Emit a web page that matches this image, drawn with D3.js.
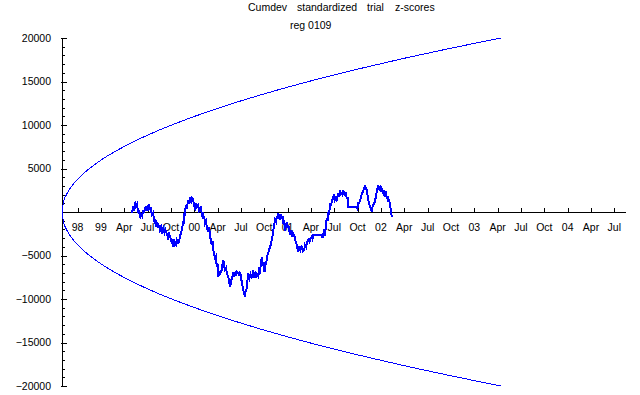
<!DOCTYPE html>
<meta charset="utf-8">
<body style="margin:0;background:#fff">
<style>
text { font-family: "Liberation Sans", Arial, sans-serif; font-size: 10.5px; fill: #000; }
.axis line, .axis path { stroke: #000; stroke-width: 1px; shape-rendering: crispEdges; }
.env { fill: none; stroke: #0000ff; stroke-width: 1px; shape-rendering: crispEdges; }
.cum { fill: none; stroke: #0000ff; stroke-width: 2px; stroke-linejoin: miter; shape-rendering: crispEdges; }
</style>
<script src="https://d3js.org/d3.v7.min.js"></script>
<script>

// x values are months counted from Jan 1998 (month 0)
var titleWords = ["Cumdev", "standardized", "trial", "z-scores"];
var subtitle = "reg 0109";

var yTicks = [-20000, -15000, -10000, -5000, 5000, 10000, 15000, 20000];
var tickMonths = d3.range(9, 79, 3);
var tickLabels = ["98","99","Apr","Jul","Oct","00","Apr","Jul","Oct","01","Apr","Jul","Oct","02",
                  "Apr","Jul","Oct","03","Apr","Jul","Oct","04","Apr","Jul"];

// envelope (upper side, lower side is the mirror)
var envMonths = [7, 7.2, 7.5, 8, 9, 10, 12, 15, 19, 23, 28, 33, 39, 45, 51, 57, 63.4];
var envBound  = [0, 1190, 1880, 2660, 3770, 4610, 5960, 7530, 9230, 10650, 12200, 13580,
                 15070, 16420, 17670, 18830, 20000];

// cumulative deviation
var cumMonths = [
15.96,16.13,16.26,16.39,16.51,16.64,16.81,16.90,17.03,17.16,17.29,17.45,17.54,17.67,17.89,17.99,
18.19,18.31,18.44,18.53,18.70,18.87,18.96,19.05,19.15,19.30,19.41,19.47,19.60,19.73,19.86,20.02,
20.18,20.31,20.46,20.63,20.76,20.89,21.01,21.18,21.27,21.44,21.53,21.66,21.75,21.91,22.04,22.17,
22.30,22.43,22.60,22.69,22.72,22.81,22.90,23.01,23.24,23.33,23.46,23.59,23.71,23.88,
23.97,24.10,24.23,24.36,24.52,24.61,24.74,24.87,24.96,25.09,25.19,25.26,25.39,25.51,25.64,25.81,
25.90,26.03,26.25,26.35,26.41,26.54,26.67,26.80,26.89,26.99,27.10,27.19,27.31,27.53,27.64,27.74,
27.83,27.96,28.09,28.21,28.38,28.47,28.60,28.73,28.82,28.99,29.11,29.24,29.37,29.50,29.67,29.76,
29.89,30.01,30.10,30.21,30.31,30.40,30.53,30.59,30.75,30.85,30.95,31.11,31.24,31.39,31.56,31.69,
31.81,31.94,32.07,32.24,32.33,32.46,
32.59,32.68,32.78,32.91,33.04,33.10,33.32,33.42,33.55,33.74,33.87,33.96,34.06,34.17,34.26,34.39,
34.51,34.60,34.71,34.81,34.90,35.03,35.16,35.25,35.35,35.45,35.54,35.67,35.76,35.89,35.99,36.10,
36.19,36.31,36.44,36.53,36.70,36.87,37.02,37.18,37.28,37.38,37.54,37.66,37.82,37.99,38.15,38.24,
38.37,38.46,38.56,38.67,38.82,38.95,39.10,39.21,39.31,40.39,40.49,40.60,
40.75,40.81,40.94,41.03,41.14,41.24,41.33,41.46,41.59,41.68,41.88,42.04,42.10,42.32,42.42,42.52,
42.61,42.74,42.87,42.96,43.06,43.17,43.26,43.39,43.48,43.60,43.81,43.82,44.89,44.97,45.10,45.22,
45.31,45.40,45.51,45.66,45.76,45.83,45.96,46.05,46.18,46.28,46.38,46.47,46.60,46.70,46.82,46.92,
47.02,47.11,47.24,47.35,47.46,47.56,47.67,47.76,47.89,47.99,48.10,48.21,48.31,48.40,48.53,48.63,
48.75,48.85,48.95,49.04,49.17,49.30,49.39];
var cumValues = [
-150,460,115,1185,690,920,-150,230,-725,-230,-460,230,-115,460,610,115,
920,230,575,-345,-115,-1115,-805,-1690,-1150,-1300,-1840,-1495,-2070,-1725,-2300,-1875,
-2415,-2070,-2450,-2990,-2530,-2840,-3220,-3600,-3105,-3990,-3450,-3680,-3220,-3565,-3415,-2760,
-2450,-1840,-1115,-1380,-150,-460,805,345,1380,920,1495,1185,1610,1380,
690,425,1035,575,805,115,230,690,-345,-150,-805,-460,-1300,-1035,-1840,-2265,
-1725,-2760,-3795,-3335,-4255,-4750,-5290,-5060,-6290,-5980,-7440,-6785,-7130,-6670,-5980,-5520,
-6210,-6670,-6440,-7130,-7440,-7935,-8590,-8050,-7625,-7130,-7475,-6865,-7360,-6900,-7050,-7360,
-6865,-7475,-8015,-8510,-8970,-9315,-9740,-9200,-8775,-7820,-7050,-7590,-7130,-7440,-6900,-7360,
-7050,-7590,-7130,-7440,-6670,-6865,
-5750,-5140,-6210,-5750,-6900,-6210,-5520,-4945,-4600,-3990,-3680,-3220,-2760,-2070,-1610,-920,
-1150,-540,-805,-115,-575,-920,-230,-725,-460,-1380,-920,-2185,-1725,-1150,-1840,-1495,
-2185,-2450,-2070,-2875,-2415,-2760,-3335,-3795,-4255,-4565,-3910,-4370,-3990,-4485,-4255,-3795,
-4025,-3600,-3335,-3220,-3450,-2990,-2840,-3105,-2645,-2645,-2990,-2450,
-1955,-2760,-1380,-725,-1035,35,-345,1000,690,1265,1760,1380,1725,1380,1840,2150,
1725,2530,2070,2150,1955,2530,2070,1955,2300,1575,1575,610,610,425,1035,1000,
1380,1575,1955,2335,2530,2725,3105,2645,2530,1955,1380,1035,610,345,35,575,
805,1035,1185,1840,2335,2760,3105,2645,2530,2875,2725,2300,2150,2530,1955,2185,
1575,1840,1185,1495,805,35,-540];

var width = 640, height = 395;

var svg = d3.select("body").append("svg")
    .attr("width", width)
    .attr("height", height);

var x = d3.scaleLinear().domain([7, 79.5]).range([62, 626]);
var y = d3.scaleLinear().domain([-20000, 20000]).range([386, 38]);

// title
var titleX = [248, 297, 367, 395];
svg.selectAll(".title")
    .data(titleWords)
  .enter().append("text")
    .attr("x", function(d, i) { return titleX[i]; })
    .attr("y", 11)
    .text(function(d) { return d; });

svg.append("text")
    .attr("x", 290)
    .attr("y", 28.5)
    .text(subtitle);

// y axis
var ya = svg.append("g").attr("class", "axis");
ya.append("line")
    .attr("x1", 62).attr("x2", 62)
    .attr("y1", y(20000)).attr("y2", y(-20000));
ya.selectAll(".minor")
    .data(d3.range(-20000, 20001, 1000).filter(function(d) { return d % 5000 != 0; }))
  .enter().append("line")
    .attr("x1", 62).attr("x2", 65)
    .attr("y1", function(d) { return Math.round(y(d)) + 0.5; })
    .attr("y2", function(d) { return Math.round(y(d)) + 0.5; });
ya.selectAll(".major")
    .data(yTicks)
  .enter().append("line")
    .attr("x1", 61).attr("x2", 67)
    .attr("y1", function(d) { return Math.round(y(d)) + 0.5; })
    .attr("y2", function(d) { return Math.round(y(d)) + 0.5; });
ya.selectAll("text")
    .data(yTicks)
  .enter().append("text")
    .attr("x", 51)
    .attr("y", function(d) { return y(d); })
    .attr("dy", "0.36em")
    .attr("text-anchor", "end")
    .text(function(d) { return d < 0 ? "\u2212" + Math.abs(d) : d; });

// x axis
var xa = svg.append("g").attr("class", "axis");
xa.append("line")
    .attr("x1", 62).attr("x2", 626)
    .attr("y1", y(0) + 0.5).attr("y2", y(0) + 0.5);
xa.selectAll(".tick")
    .data(tickMonths)
  .enter().append("line")
    .attr("x1", function(d) { return Math.round(x(d)) + 0.5; })
    .attr("x2", function(d) { return Math.round(x(d)) + 0.5; })
    .attr("y1", y(0) - 4).attr("y2", y(0));
xa.selectAll("text")
    .data(tickMonths)
  .enter().append("text")
    .attr("x", function(d) { return x(d); })
    .attr("y", 230.5)
    .attr("text-anchor", "middle")
    .text(function(d, i) { return tickLabels[i]; });

// envelope
var env = d3.line()
    .x(function(d, i) { return x(envMonths[i]); })
    .y(function(d) { return y(d); })
    .curve(d3.curveMonotoneX);

svg.append("path").attr("class", "env").attr("d", env(envBound));
svg.append("path").attr("class", "env").attr("d", env(envBound.map(function(v) { return -v; })));

// cumdev trace
var cum = d3.line()
    .x(function(d, i) { return x(cumMonths[i]); })
    .y(function(d) { return y(d); });

svg.append("path").attr("class", "cum").attr("d", cum(cumValues));

</script>
</body>
</html>
